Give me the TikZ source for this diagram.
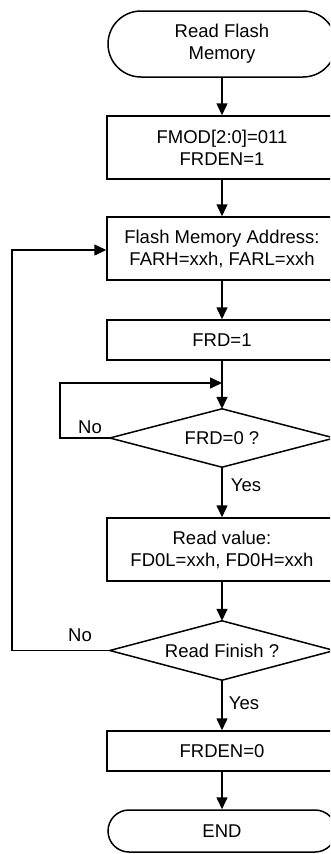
\documentclass[tikz,border=0pt]{standalone}
\usepackage{fontspec}
\setmainfont{Liberation Sans}
\usetikzlibrary{arrows.meta,shapes.geometric,shapes.misc}
\begin{document}
\begin{tikzpicture}[x=1pt,y=-1pt,
  every node/.style={font=\fontsize{18.5}{22}\selectfont, align=center, inner sep=0pt},
  proc/.style={draw, line width=1.5pt, rectangle, minimum width=230pt},
  term/.style={draw, line width=1.5pt, rounded rectangle, minimum width=228pt},
  dec/.style={draw, line width=1.5pt, diamond, aspect=3.8},
  arr/.style={line width=1.5pt, -{Triangle[length=12pt,width=11pt]}},
  lbl/.style={font=\fontsize{18.5}{22}\selectfont}]
\useasboundingbox (0,0) rectangle (330,854);
\clip (0,0) rectangle (330,854);
\node[term, minimum height=66pt] (start) at (222,44) {Read Flash\\Memory};
\node[proc, minimum height=63pt] (b1) at (222,147.5) {FMOD[2:0]=011\\FRDEN=1};
\node[proc, minimum height=63pt] (b2) at (222,248.5) {Flash Memory Address:\\FARH=xxh, FARL=xxh};
\node[proc, minimum height=40pt] (b3) at (222,340) {FRD=1};
\node[draw=none, minimum width=224pt, minimum height=58pt] (d1b) at (222,438) {};
\draw[line width=1.5pt] (d1b.north) -- (d1b.east) -- (d1b.south) -- (d1b.west) -- cycle;
\node (d1) at (222,438) {FRD=0 ?};
\node[proc, minimum height=63pt] (b4) at (222,549.5) {Read value:\\FD0L=xxh, FD0H=xxh};
\node[draw=none, minimum width=224pt, minimum height=59pt] (d2b) at (222,650.5) {};
\draw[line width=1.5pt] (d2b.north) -- (d2b.east) -- (d2b.south) -- (d2b.west) -- cycle;
\node (d2) at (222,650.5) {Read Finish ?};
\node[proc, minimum height=40pt] (b5) at (222,751) {FRDEN=0};
\node[term, minimum height=42pt] (end) at (222,831) {END};
\coordinate (j1) at (222,383);
\draw[arr] (start.south) -- (b1.north);
\draw[arr] (b1.south) -- (b2.north);
\draw[arr] (b2.south) -- (b3.north);
\draw[line width=1.5pt] (b3.south) -- (j1);
\draw[arr] (j1) -- (d1b.north);
\draw[arr] (d1b.west) -- (60,438) -- (60,383) -- (j1);
\draw[arr] (d1b.south) -- (b4.north);
\draw[arr] (b4.south) -- (d2b.north);
\draw[arr] (d2b.west) -- (12,650.5) -- (12,250) -- (b2.west |- 0,250);
\draw[arr] (d2b.south) -- (b5.north);
\draw[arr] (b5.south) -- (end.north);
\node[lbl] (no1) at (90,427) {No};
\node[lbl] (yes1) at (246,485) {Yes};
\node[lbl] (no2) at (80,635) {No};
\node[lbl] (yes2) at (244,703) {Yes};
\end{tikzpicture}
\end{document}
